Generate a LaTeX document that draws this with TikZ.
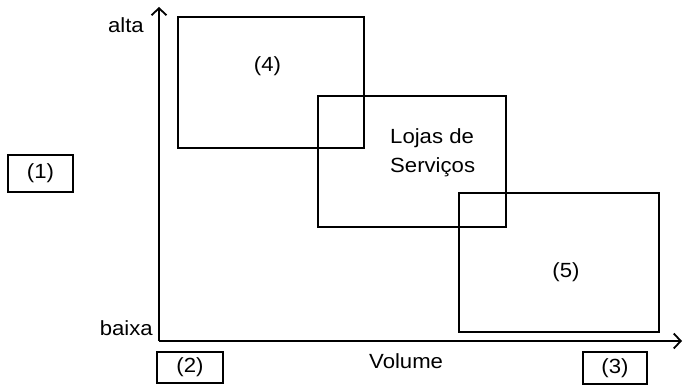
\documentclass[tikz,border=0pt]{standalone}
\usepackage{fontspec}
\setmainfont{Liberation Sans}
\usetikzlibrary{arrows.meta}
\newcommand{\wt}[1]{\scalebox{1.08}[1]{#1}}
\begin{document}
\begin{tikzpicture}[x=1pt,y=-1pt,
  lbl/.style={inner sep=0pt, font=\fontsize{20.5}{24}\selectfont},
  region/.style={draw, line width=1.4pt, inner sep=0pt},
  tag/.style={draw, line width=1.4pt, inner sep=0pt, font=\fontsize{20.5}{24}\selectfont},
  axis/.style={line width=2pt, -{Straight Barb[length=7pt,width=15pt,line width=1.8pt]}}]
\useasboundingbox (0,0) rectangle (683,385);
% axes
\coordinate (o) at (159,341);
\coordinate (ytip) at (159,7);
\coordinate (xtip) at (682,341);
\draw[axis] (o) -- (ytip);
\draw[axis] (o) -- (xtip);
% regions
\node[region, minimum width=186pt, minimum height=131pt] (r4) at (271,82.5) {};
\node[region, minimum width=188pt, minimum height=131pt] (rl) at (412,161.5) {};
\node[region, minimum width=200pt, minimum height=139pt] (r5) at (559,262.5) {};
% labels
\node[lbl, anchor=base] (l4) at (267.5,72) {\wt{(4)}};
\node[lbl, anchor=base west] (lj1) at (390,144) {\wt{Lojas de}};
\node[lbl, anchor=base west] (lj2) at (390,173) {\wt{Serviços}};
\node[lbl, anchor=base] (l5) at (566,277) {\wt{(5)}};
\node[lbl, anchor=base east] (alta) at (144,33) {\wt{alta}};
\node[lbl, anchor=base east] (baixa) at (153,335) {\wt{baixa}};
\node[lbl, anchor=base west] (vol) at (369,368) {\wt{Volume}};
% tags
\node[tag, minimum width=65pt, minimum height=37pt] (t1) at (40.5,173.5) {\wt{(1)}};
\node[tag, minimum width=66pt, minimum height=31pt] (t2) at (190,367.5) {\wt{(2)}};
\node[tag, minimum width=64pt, minimum height=32pt] (t3) at (615,368) {\wt{(3)}};
\end{tikzpicture}
\end{document}
